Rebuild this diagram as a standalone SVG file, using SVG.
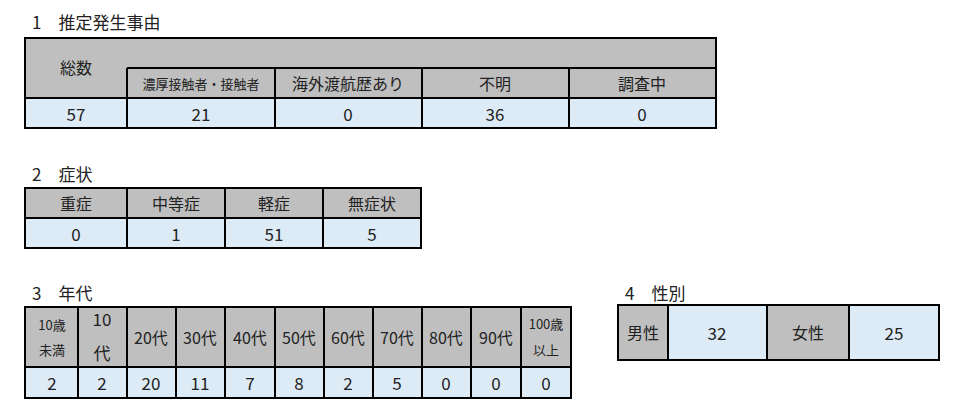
<svg xmlns="http://www.w3.org/2000/svg" width="974" height="404" viewBox="0 0 974 404">
<style>
text{font-family:"Noto Sans CJK JP","Liberation Sans",sans-serif;fill:#222;text-anchor:middle;dominant-baseline:central}
.t{text-anchor:start;font-size:17px}
.g{fill:#bfbfbf}
.b{fill:#ddebf7}
.l{stroke:#000;stroke-width:2;fill:none}
.h{font-size:16px}
.s{font-size:13px}
.v{font-size:17px}
</style>
<rect width="974" height="404" fill="#fff"/>
<g id="table1">
<text class="t" x="32" y="21">1　推定発生事由</text>
<rect class="g" x="25" y="38" width="691" height="60"/>
<rect class="b" x="25" y="98" width="691" height="30"/>
<path class="l" d="M25 38H716V128H25Z M127 68H716 M25 98H716 M127 68V128 M275 68V128 M422 68V128 M569 68V128"/>
<text class="h" x="76" y="67">総数</text>
<text class="s" x="201" y="83">濃厚接触者・接触者</text>
<text class="h" x="348" y="83">海外渡航歴あり</text>
<text class="h" x="495" y="83">不明</text>
<text class="h" x="642" y="83">調査中</text>
<text class="v" x="76" y="113">57</text>
<text class="v" x="201" y="113">21</text>
<text class="v" x="348" y="113">0</text>
<text class="v" x="495" y="113">36</text>
<text class="v" x="642" y="113">0</text>
</g>
<g id="table2">
<text class="t" x="32" y="173">2　症状</text>
<rect class="g" x="25" y="188" width="396" height="30"/>
<rect class="b" x="25" y="218" width="396" height="30"/>
<path class="l" d="M25 188H421V248H25Z M25 218H421 M127 188V248 M225 188V248 M323 188V248"/>
<text class="h" x="76" y="203">重症</text>
<text class="h" x="176" y="203">中等症</text>
<text class="h" x="274" y="203">軽症</text>
<text class="h" x="372" y="203">無症状</text>
<text class="v" x="76" y="233">0</text>
<text class="v" x="176" y="233">1</text>
<text class="v" x="274" y="233">51</text>
<text class="v" x="372" y="233">5</text>
</g>
<g id="table3">
<text class="t" x="32" y="292">3　年代</text>
<rect class="g" x="25" y="307" width="546" height="60"/>
<rect class="b" x="25" y="367" width="546" height="31"/>
<path class="l" d="M25 307H571V398H25Z M25 367H571 M78 307V398 M127 307V398 M176 307V398 M225 307V398 M275 307V398 M324 307V398 M373 307V398 M422 307V398 M471 307V398 M521 307V398"/>
<text class="s" x="52" y="324">10歳</text>
<text class="s" x="52" y="349">未満</text>
<text class="v" x="102" y="318">10</text>
<text class="v" x="102" y="352">代</text>
<text class="h" x="151" y="337">20代</text>
<text class="h" x="200" y="337">30代</text>
<text class="h" x="250" y="337">40代</text>
<text class="h" x="299" y="337">50代</text>
<text class="h" x="348" y="337">60代</text>
<text class="h" x="397" y="337">70代</text>
<text class="h" x="446" y="337">80代</text>
<text class="h" x="496" y="337">90代</text>
<text class="s" x="546" y="323">100歳</text>
<text class="s" x="546" y="349">以上</text>
<text class="v" x="52" y="382">2</text>
<text class="v" x="102" y="382">2</text>
<text class="v" x="151" y="382">20</text>
<text class="v" x="200" y="382">11</text>
<text class="v" x="250" y="382">7</text>
<text class="v" x="299" y="382">8</text>
<text class="v" x="348" y="382">2</text>
<text class="v" x="397" y="382">5</text>
<text class="v" x="446" y="382">0</text>
<text class="v" x="496" y="382">0</text>
<text class="v" x="546" y="382">0</text>
</g>
<g id="table4">
<text class="t" x="625" y="292">4　性別</text>
<rect class="g" x="618" y="305" width="50" height="55"/>
<rect class="b" x="668" y="305" width="99" height="55"/>
<rect class="g" x="767" y="305" width="82" height="55"/>
<rect class="b" x="849" y="305" width="90" height="55"/>
<path class="l" d="M618 305H939V360H618Z M668 305V360 M767 305V360 M849 305V360"/>
<text class="h" x="643" y="332">男性</text>
<text class="v" x="717" y="332">32</text>
<text class="h" x="808" y="332">女性</text>
<text class="v" x="894" y="332">25</text>
</g>
</svg>
